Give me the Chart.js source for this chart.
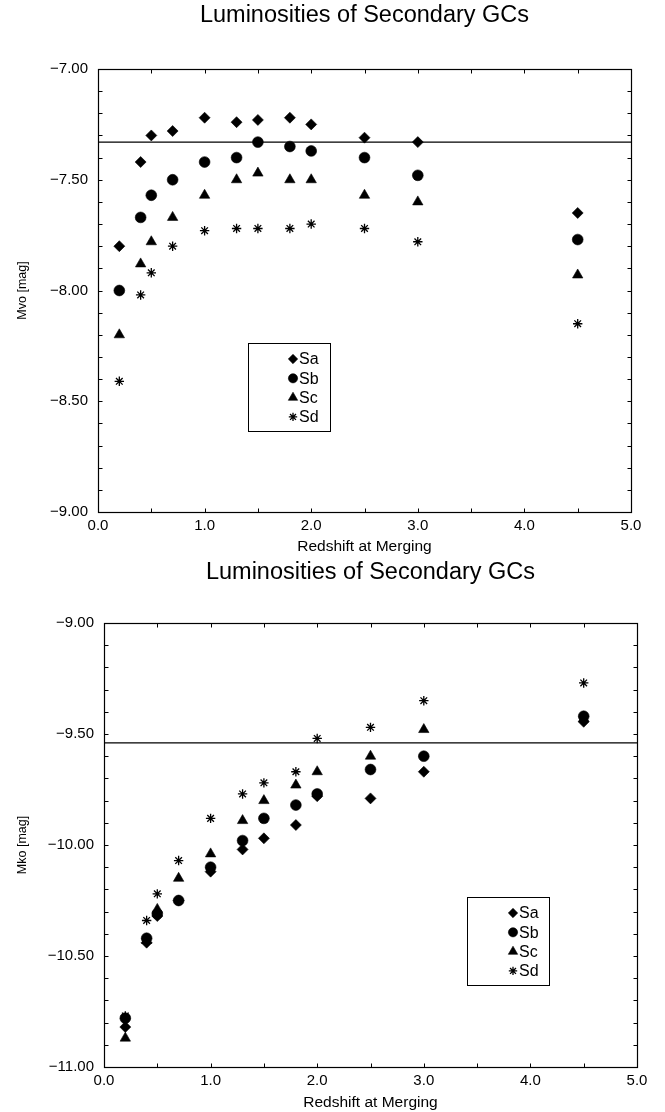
<!DOCTYPE html>
<html>
<head>
<meta charset="utf-8">
<title>Luminosities of Secondary GCs</title>
<script src="https://cdn.jsdelivr.net/npm/chart.js"></script>
<style>
  html, body { margin: 0; padding: 0; background: #fff; }
  #wrap { position: relative; width: 665px; height: 1112px; }
  canvas { position: absolute; left: 0; }
</style>
</head>
<body>
<div id="wrap">
  <canvas id="chartV" width="665" height="556" style="top:0"></canvas>
  <canvas id="chartK" width="665" height="556" style="top:556px"></canvas>
</div>
<script>
// redshift at merging, shared by both panels
var redshift = [0.2, 0.4, 0.5, 0.7, 1.0, 1.3, 1.5, 1.8, 2.0, 2.5, 3.0, 4.5];
var seriesNames = ['Sa', 'Sb', 'Sc', 'Sd'];

// upper panel: Mvo [mag]
var mvoSa = [-7.80, -7.42, -7.30, -7.28, -7.22, -7.24, -7.23, -7.22, -7.25, -7.31, -7.33, -7.65];
var mvoSb = [-8.00, -7.67, -7.57, -7.50, -7.42, -7.40, -7.33, -7.35, -7.37, -7.40, -7.48, -7.77];
var mvoSc = [-8.20, -7.88, -7.78, -7.67, -7.57, -7.50, -7.47, -7.50, -7.50, -7.57, -7.60, -7.93];
var mvoSd = [-8.41, -8.02, -7.92, -7.80, -7.73, -7.72, -7.72, -7.72, -7.70, -7.72, -7.78, -8.15];
var mvoLevel = -7.33;

// lower panel: Mko [mag]
var mkoSa = [-10.82, -10.44, -10.32, -10.25, -10.12, -10.02, -9.97, -9.91, -9.78, -9.79, -9.67, -9.445];
var mkoSb = [-10.78, -10.42, -10.31, -10.25, -10.10, -9.98, -9.88, -9.82, -9.77, -9.66, -9.60, -9.42];
var mkoSc = [-10.87, -10.43, -10.29, -10.15, -10.04, -9.89, -9.80, -9.73, -9.67, -9.60, -9.48, -9.43];
var mkoSd = [-10.77, -10.34, -10.22, -10.07, -9.88, -9.77, -9.72, -9.67, -9.52, -9.47, -9.35, -9.27];
var mkoLevel = -9.54;

var xRange = [0, 5];
var mvoRange = [-9, -7];
var mkoRange = [-11, -9];

var markerStyles = ['rectRot', 'circle', 'triangle', 'star'];
var markerSizes = [5.5, 5.4, 6, 4.7];
var legendSizes = [4.7, 4.6, 5.4, 4.2];

Chart.defaults.font.family = '"Liberation Sans", Arial, Helvetica, sans-serif';
Chart.defaults.color = '#000';

function pairs(ys) {
    return redshift.map(function (x, i) { return { x: x, y: ys[i] }; });
}

function fmt(v, d) {
    return (v < 0 ? '\u2212' : '') + Math.abs(v).toFixed(d);
}

// box round the plot with small inward ticks on all four sides
var frameTicks = {
    id: 'frameTicks',
    afterDraw: function (chart, args, o) {
        var ctx = chart.ctx, a = chart.chartArea;
        var x = chart.scales.x, y = chart.scales.y;
        var L = Math.round(a.left) + 0.5, R = Math.round(a.right) + 0.5;
        var T = Math.round(a.top) + 0.5, B = Math.round(a.bottom) + 0.5;
        ctx.save();
        ctx.strokeStyle = '#000';
        ctx.lineWidth = 1.2;
        ctx.strokeRect(L, T, R - L, B - T);
        ctx.lineWidth = 1;
        ctx.beginPath();
        var n = Math.round((x.max - x.min) / o.xStep), i, p;
        for (i = 1; i < n; i++) {
            p = Math.round(x.getPixelForValue(x.min + i * o.xStep)) + 0.5;
            ctx.moveTo(p, T); ctx.lineTo(p, T + o.len);
            ctx.moveTo(p, B); ctx.lineTo(p, B - o.len);
        }
        n = Math.round((y.max - y.min) / o.yStep);
        for (i = 1; i < n; i++) {
            p = Math.round(y.getPixelForValue(y.min + i * o.yStep)) + 0.5;
            ctx.moveTo(L, p); ctx.lineTo(L + o.len, p);
            ctx.moveTo(R, p); ctx.lineTo(R - o.len, p);
        }
        ctx.stroke();
        ctx.restore();
    }
};

// framed legend sitting inside the plot
var boxLegend = {
    id: 'boxLegend',
    afterDatasetsDraw: function (chart, args, o) {
        var ctx = chart.ctx;
        ctx.save();
        ctx.fillStyle = '#fff';
        ctx.fillRect(o.left, o.top, o.width, o.height);
        ctx.strokeStyle = '#000';
        ctx.lineWidth = 1;
        ctx.strokeRect(o.left + 0.5, o.top + 0.5, o.width, o.height);
        ctx.font = '16px "Liberation Sans", Arial, sans-serif';
        ctx.textBaseline = 'middle';
        ctx.textAlign = 'left';
        for (var i = 0; i < seriesNames.length; i++) {
            var ds = chart.data.datasets[i];
            var cy = o.top + o.firstRow + i * o.rowGap;
            ctx.fillStyle = '#000';
            ctx.strokeStyle = '#000';
            ctx.lineWidth = ds.borderWidth;
            Chart.helpers.drawPoint(ctx, {
                pointStyle: ds.pointStyle, radius: legendSizes[i],
                borderWidth: ds.borderWidth, rotation: 0
            }, o.left + o.markerX, cy);
            ctx.fillText(ds.label, o.left + o.textX, cy + 1);
        }
        ctx.restore();
    }
};

function buildChart(id, p) {
    var datasets = p.series.map(function (ys, i) {
        return {
            label: seriesNames[i],
            data: pairs(ys),
            pointStyle: markerStyles[i],
            pointRadius: markerSizes[i],
            pointHoverRadius: markerSizes[i],
            backgroundColor: '#000',
            borderColor: '#000',
            borderWidth: i == 3 ? 1.3 : 0.6,
            showLine: false
        };
    });
    datasets.push({
        label: 'level',
        data: [{ x: xRange[0], y: p.level }, { x: xRange[1], y: p.level }],
        showLine: true,
        pointRadius: 0,
        borderColor: '#000',
        borderWidth: 1.2
    });

    return new Chart(document.getElementById(id), {
        type: 'scatter',
        data: { datasets: datasets },
        options: {
            responsive: false,
            animation: false,
            events: [],
            layout: { padding: { left: 0, right: p.padRight, top: 0, bottom: 0 } },
            plugins: {
                legend: { display: false },
                tooltip: { enabled: false },
                title: {
                    display: true,
                    fullSize: false,
                    text: 'Luminosities of Secondary GCs',
                    color: '#000',
                    font: { size: 23.5, weight: 'normal' },
                    padding: { top: p.titleTop, bottom: p.titleBottom }
                },
                frameTicks: { xStep: 0.5, yStep: 0.1, len: 4 },
                boxLegend: p.legend
            },
            scales: {
                x: {
                    type: 'linear',
                    min: xRange[0],
                    max: xRange[1],
                    ticks: {
                        stepSize: 1, padding: 5, color: '#000',
                        font: { size: 15 },
                        callback: function (v) { return fmt(v, 1); }
                    },
                    grid: { display: false, drawTicks: false },
                    border: { display: false },
                    title: {
                        display: true, text: 'Redshift at Merging', color: '#000',
                        font: { size: 15.5 }, padding: { top: 0, bottom: 0 }
                    },
                    afterFit: function (s) { s.height = p.xHeight; }
                },
                y: {
                    type: 'linear',
                    min: p.yRange[0],
                    max: p.yRange[1],
                    ticks: {
                        stepSize: 0.5, padding: 10, color: '#000',
                        font: { size: 15 },
                        callback: function (v) { return fmt(v, 2); }
                    },
                    grid: { display: false, drawTicks: false },
                    border: { display: false },
                    title: {
                        display: true, text: p.yTitle, color: '#000',
                        font: { size: 12.5 },
                        padding: { top: 15, bottom: 0 }
                    },
                    afterFit: function (s) { s.width = p.yWidth; }
                }
            }
        },
        plugins: [frameTicks, boxLegend]
    });
}

var chartV = buildChart('chartV', {
    series: [mvoSa, mvoSb, mvoSc, mvoSd],
    level: mvoLevel,
    yRange: mvoRange,
    yTitle: 'Mvo [mag]',
    yWidth: 98,
    padRight: 34,
    xHeight: 44,
    titleTop: 1.4,
    titleBottom: 39.4,
    legend: { left: 248, top: 343, width: 82, height: 88, firstRow: 16, rowGap: 19.3, markerX: 45, textX: 51 }
});

var chartK = buildChart('chartK', {
    series: [mkoSa, mkoSb, mkoSc, mkoSd],
    level: mkoLevel,
    yRange: mkoRange,
    yTitle: 'Mko [mag]',
    yWidth: 104,
    padRight: 28,
    xHeight: 45,
    titleTop: 2.9,
    titleBottom: 35.9,
    legend: { left: 467, top: 341, width: 82, height: 88, firstRow: 16, rowGap: 19.3, markerX: 46, textX: 52 }
});
</script>
</body>
</html>
